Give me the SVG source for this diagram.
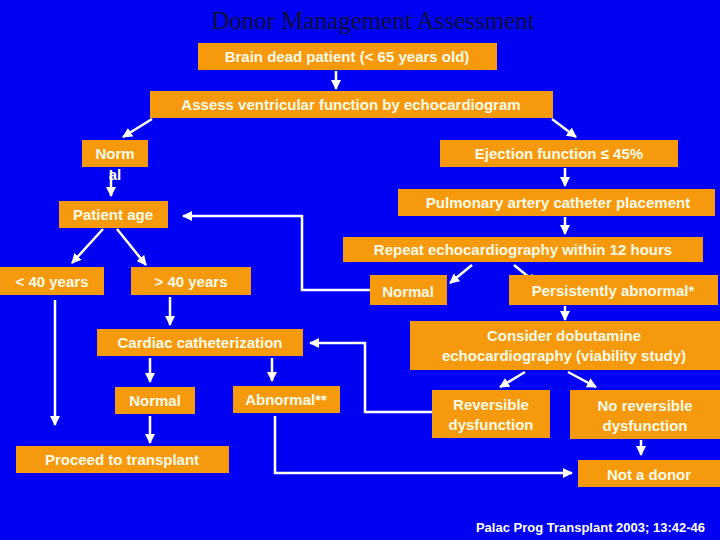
<svg xmlns="http://www.w3.org/2000/svg" width="720" height="540" viewBox="0 0 720 540">
<defs>
<marker id="ah" viewBox="0 0 10 10" refX="9" refY="5" markerWidth="4" markerHeight="4" orient="auto"><path d="M0,0L10,5L0,10z" fill="#fff"/></marker>
<style>
.b{fill:#f7990c}
.t{font-family:"Liberation Sans",Arial,sans-serif;font-weight:bold;font-size:15px;fill:#fffbe8;text-anchor:middle}
.c{stroke:#fff;stroke-width:2.5;fill:none;marker-end:url(#ah)}
</style>
</defs>
<rect width="720" height="540" fill="#0000f2"/>
<text x="373" y="29" font-family="Liberation Serif,serif" font-size="25" fill="#10103a" text-anchor="middle">Donor Management Assessment</text>
<g id="connectors">
<path class="c" d="M336,71V89"/>
<path class="c" d="M152,119L123,137"/>
<path class="c" d="M552,119L576,137"/>
<path class="c" d="M111,170V196"/>
<path class="c" d="M370,290H302V216H183"/>
<path class="c" d="M565,168V186"/>
<path class="c" d="M565,217V234"/>
<path class="c" d="M472,265L450,283"/>
<path class="c" d="M514,265L536,283"/>
<path class="c" d="M565,306V320"/>
<path class="c" d="M103,229L72,263"/>
<path class="c" d="M117,229L146,265"/>
<path class="c" d="M55,300V425"/>
<path class="c" d="M170,297V325"/>
<path class="c" d="M150,358V382"/>
<path class="c" d="M272,358V381"/>
<path class="c" d="M150,416V443"/>
<path class="c" d="M275,416V473H572"/>
<path class="c" d="M432,412H365V343H310"/>
<path class="c" d="M525,372L500,387"/>
<path class="c" d="M568,372L596,387"/>
<path class="c" d="M641,440V455"/>
</g>
<g id="brain"><rect class="b" x="198" y="43" width="299" height="27"/><text class="t" x="347" y="62">Brain dead patient (&lt; 65 years old)</text></g>
<g id="assess"><rect class="b" x="150" y="91" width="403" height="27"/><text class="t" x="351" y="110">Assess ventricular function by echocardiogram</text></g>
<g id="normal1"><rect class="b" x="82" y="140" width="66" height="27"/><text class="t" x="115" y="159">Norm</text><text class="t" x="115" y="180">al</text></g>
<g id="ejection"><rect class="b" x="440" y="140" width="238" height="27"/><text class="t" x="559" y="159">Ejection function ≤ 45%</text></g>
<g id="pulmonary"><rect class="b" x="398" y="189" width="317" height="27"/><text class="t" x="558" y="208">Pulmonary artery catheter placement</text></g>
<g id="age"><rect class="b" x="59" y="201" width="109" height="27"/><text class="t" x="113" y="220">Patient age</text></g>
<g id="repeat"><rect class="b" x="343" y="237" width="360" height="25"/><text class="t" x="523" y="255">Repeat echocardiography within 12 hours</text></g>
<g id="lt40"><rect class="b" x="0" y="267" width="104" height="28"/><text class="t" x="52" y="287">&lt; 40 years</text></g>
<g id="gt40"><rect class="b" x="131" y="267" width="120" height="28"/><text class="t" x="191" y="287">&gt; 40 years</text></g>
<g id="normal2"><rect class="b" x="370" y="275" width="77" height="30"/><text class="t" x="408" y="297">Normal</text></g>
<g id="persist"><rect class="b" x="509" y="275" width="209" height="30"/><text class="t" x="613" y="296">Persistently abnormal*</text></g>
<g id="consider"><rect class="b" x="410" y="321" width="310" height="49"/><text class="t" x="564" y="341">Consider dobutamine</text><text class="t" x="564" y="361">echocardiography (viability study)</text></g>
<g id="cath"><rect class="b" x="97" y="329" width="206" height="27"/><text class="t" x="200" y="348">Cardiac catheterization</text></g>
<g id="normal3"><rect class="b" x="115" y="387" width="80" height="27"/><text class="t" x="155" y="406">Normal</text></g>
<g id="abnormal"><rect class="b" x="233" y="386" width="107" height="27"/><text class="t" x="286" y="405">Abnormal**</text></g>
<g id="reversible"><rect class="b" x="432" y="390" width="118" height="48"/><text class="t" x="491" y="410">Reversible</text><text class="t" x="491" y="430">dysfunction</text></g>
<g id="noreversible"><rect class="b" x="570" y="390" width="150" height="49"/><text class="t" x="645" y="411">No reversible</text><text class="t" x="645" y="431">dysfunction</text></g>
<g id="proceed"><rect class="b" x="16" y="446" width="213" height="27"/><text class="t" x="122" y="465">Proceed to transplant</text></g>
<g id="notdonor"><rect class="b" x="578" y="460" width="142" height="27"/><text class="t" x="649" y="480">Not a donor</text></g>
<text x="705" y="532" font-family="Liberation Sans,Arial,sans-serif" font-weight="bold" font-size="13" fill="#fff" text-anchor="end">Palac Prog Transplant 2003; 13:42-46</text>
</svg>
